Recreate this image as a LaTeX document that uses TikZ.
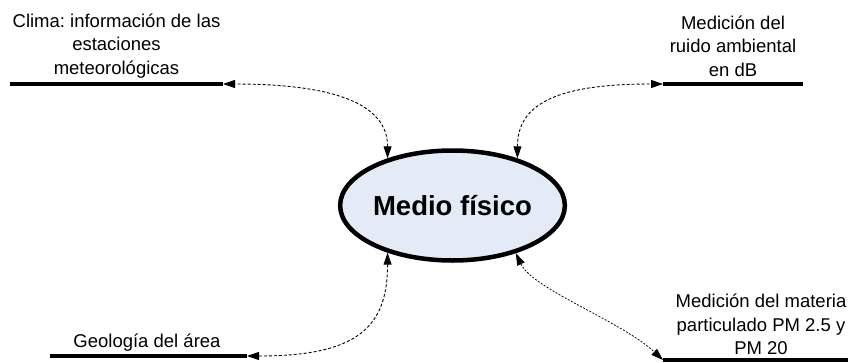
\documentclass[tikz,border=0pt]{standalone}
\usepackage{fontspec}
\setmainfont{Liberation Sans}
\frenchspacing
\usetikzlibrary{arrows.meta,shapes.geometric}
\definecolor{ellfill}{RGB}{228,234,246}
\tikzset{
  bar/.style={line width=4pt},
  tipA/.tip={Triangle[length=12pt,width=8pt]},
  link/.style={line width=0.9pt, dash pattern=on 3pt off 2pt, tipA-tipA},
  linkfine/.style={line width=0.75pt, dash pattern=on 2pt off 1.5pt, tipA-tipA},
  lbl/.style={align=center, inner sep=0pt, anchor=base, font=\fontsize{18.5}{23.5}\selectfont},
  centre/.style={ellipse, draw, line width=4.5pt, fill=ellfill, minimum width=221pt, minimum height=110pt, inner sep=0pt, font=\fontsize{27.5}{33}\selectfont\bfseries}
}
\begin{document}
\begin{tikzpicture}[x=1pt,y=-1pt]
\useasboundingbox[fill=white] (0,0) rectangle (848,362);
% central node
\node[centre] (ell) at (452.5,205.5) {Medio físico};
% bar end coordinates
\coordinate (tlA) at (10,84);   \coordinate (tlB) at (223,84);
\coordinate (trA) at (663,84);  \coordinate (trB) at (803,84);
\coordinate (blA) at (50,356);  \coordinate (blB) at (247,356);
\coordinate (brA) at (663,360); \coordinate (brB) at (848,360);
% bars
\draw[bar] (tlA) -- (tlB);
\draw[bar] (trA) -- (trB);
\draw[bar] (blA) -- (blB);
\draw[bar] (brA) -- (brB);
% labels (anchor base = last line baseline)
\node[lbl] (tlT) at (116.5,74) {Clima: información de las\\estaciones\\meteorológicas};
\node[lbl] (trT) at (733,76) {Medición del\\ruido ambiental\\en dB};
\node[lbl] (blT) at (147,347) {Geología del área};
\node[lbl] (brT) at (761,354.5) {Medición del materia\\particulado PM 2.5 y\\PM 20};
% connectors
\draw[link] (ell.144) .. controls +(0,-55) and +(110,0) .. (tlB);
\draw[link] (ell.36) .. controls +(0,-55) and +(-105,0) .. (trA);
\draw[link] (ell.216) .. controls +(0,75) and +(110,0) .. (blB);
\draw[linkfine] (ell.-37) .. controls +(17,36) and +(-42,-39) .. (brA);
\end{tikzpicture}
\end{document}
